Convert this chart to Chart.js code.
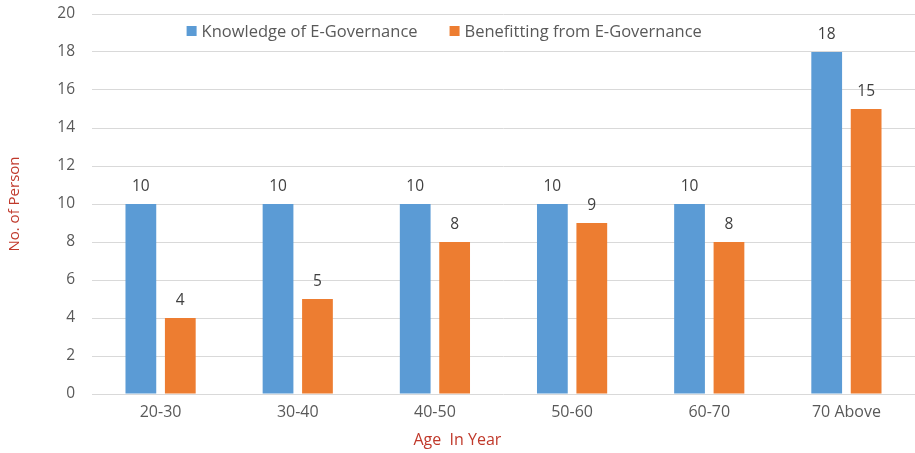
<!DOCTYPE html>
<html>
<head>
<meta charset="utf-8">
<script src="https://cdn.jsdelivr.net/npm/chart.js@4.4.0/dist/chart.umd.min.js"></script>
<style>
html,body{margin:0;padding:0;background:#fff;}
#wrap{width:915px;height:453px;position:relative;}
</style>
</head>
<body>
<div id="wrap"><canvas id="c"></canvas></div>
<script>
const categories = ["20-30", "30-40", "40-50", "50-60", "60-70", "70 Above"];
const knowledgeValues = [10, 10, 10, 10, 10, 18];
const benefitValues = [4, 5, 8, 9, 8, 15];
const seriesNames = ["Knowledge of E-Governance", "Benefitting from E-Governance"];
const yTicks = [0, 2, 4, 6, 8, 10, 12, 14, 16, 18, 20];
const yTitle = "No. of Person";
const xTitle = "Age  In Year";

const FONT = "'Open Sans', 'Noto Sans', sans-serif";

const valueLabels = {
  id: 'valueLabels',
  afterDatasetsDraw(chart) {
    const ctx = chart.ctx;
    ctx.save();
    ctx.font = "15.5px " + FONT;
    ctx.fillStyle = "#404040";
    ctx.textAlign = "center";
    ctx.textBaseline = "middle";
    chart.data.datasets.forEach((ds, i) => {
      const meta = chart.getDatasetMeta(i);
      meta.data.forEach((bar, j) => {
        ctx.fillText(String(ds.data[j]), bar.x, bar.y - 17);
      });
    });
    ctx.restore();
  }
};

const customLegend = {
  id: 'customLegend',
  afterDraw(chart) {
    const ctx = chart.ctx;
    const area = chart.chartArea;
    ctx.save();
    ctx.font = "16.5px " + FONT;
    ctx.textBaseline = "middle";
    ctx.textAlign = "left";
    const box = 10, gapBoxText = 5, gapItems = 32;
    const ds = chart.data.datasets;
    let total = 0;
    ds.forEach((d, i) => {
      total += box + gapBoxText + ctx.measureText(d.label).width;
      if (i < ds.length - 1) total += gapItems;
    });
    const cx = area.left + (area.right - area.left) * 0.428;
    let x = cx - total / 2;
    const y = area.top + 17;
    ds.forEach((d) => {
      ctx.fillStyle = d.backgroundColor;
      ctx.fillRect(x, y - box / 2, box, box);
      x += box + gapBoxText;
      ctx.fillStyle = "#595959";
      ctx.fillText(d.label, x, y + 1);
      x += ctx.measureText(d.label).width + gapItems;
    });
    // x axis title
    ctx.font = "16px " + FONT;
    ctx.fillStyle = "#c0392b";
    ctx.textAlign = "center";
    ctx.fillText(xTitle, area.left + (area.right - area.left) * 0.444, 440);
    ctx.restore();
  }
};

new Chart(document.getElementById('c'), {
  type: 'bar',
  data: {
    labels: categories,
    datasets: [
      { label: seriesNames[0], data: knowledgeValues, backgroundColor: "#5b9bd5",
        categoryPercentage: 0.575, barPercentage: 0.78 },
      { label: seriesNames[1], data: benefitValues, backgroundColor: "#ed7d31",
        categoryPercentage: 0.575, barPercentage: 0.78 }
    ]
  },
  options: {
    responsive: true,
    maintainAspectRatio: false,
    animation: false,
    layout: { padding: { top: 14, right: -4, left: 0, bottom: 0 } },
    plugins: {
      legend: { display: false },
      tooltip: { enabled: false }
    },
    scales: {
      x: {
        grid: { display: false, drawTicks: false },
        border: { display: false },
        ticks: { color: "#595959", font: { family: FONT, size: 16 }, padding: 9 },
        afterFit(scale) { scale.height = 59; scale.paddingLeft = 0; scale.paddingRight = 0; }
      },
      y: {
        min: 0, max: 20,
        afterBuildTicks(scale) { scale.ticks = yTicks.map(v => ({ value: v })); },
        grid: { color: "#d9d9d9", drawTicks: false, lineWidth: 1 },
        border: { display: false },
        ticks: { color: "#595959", font: { family: FONT, size: 15.5 }, padding: 17 },
        title: { display: true, text: yTitle, color: "#c0392b",
                 font: { family: FONT, size: 15 }, padding: { top: 6, bottom: 0 } },
        afterFit(scale) { scale.width = 92; scale.paddingTop = 0; scale.paddingBottom = 0; }
      }
    }
  },
  plugins: [valueLabels, customLegend]
});
</script>
</body>
</html>
